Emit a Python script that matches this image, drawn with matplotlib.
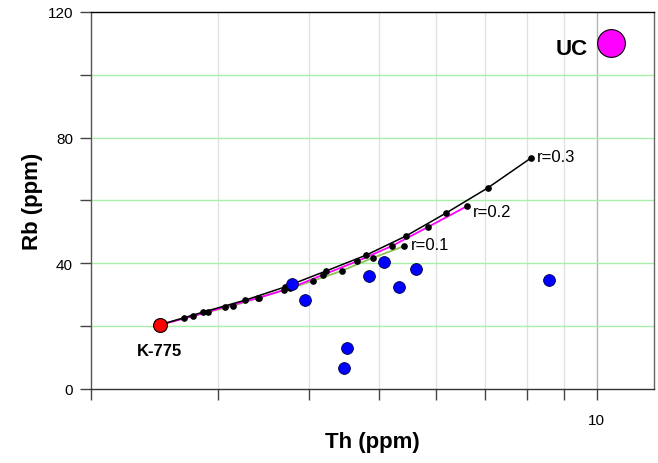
import matplotlib
matplotlib.use("Agg")
import matplotlib.pyplot as plt
from matplotlib.ticker import FixedLocator, NullLocator

plt.rcParams['font.family'] = ['Liberation Sans', 'DejaVu Sans']

# Starting composition and upper crust
k775_th, k775_rb = 2.49, 20.4
uc_th, uc_rb = 10.45, 110.0

# Mixing / AFC curves (dots along each trajectory)
r01_th = [2.69, 2.90, 3.14, 3.40, 3.70, 4.05, 4.44, 4.90, 5.42]
r01_rb = [22.6, 24.5, 26.4, 29.0, 31.5, 34.4, 37.6, 41.7, 45.5]
r02_th = [2.77, 3.06, 3.41, 3.77, 4.18, 4.67, 5.21, 5.85, 6.62]
r02_rb = [23.2, 26.1, 29.0, 32.1, 36.3, 40.7, 45.5, 51.6, 58.2]
r03_th = [2.86, 3.27, 3.71, 4.23, 4.80, 5.45, 6.19, 7.07, 8.11]
r03_rb = [24.5, 28.3, 32.5, 37.6, 42.6, 48.7, 56.0, 64.0, 73.5]

# Samples
samp_th = [3.79, 3.95, 4.47, 4.52, 4.85, 5.08, 5.33, 5.63, 8.59]
samp_rb = [33.4, 28.3, 6.7, 13.0, 36.0, 40.4, 32.5, 38.2, 34.7]

fig = plt.figure(figsize=(6.58, 4.64), dpi=100)
ax = fig.add_axes([0.1383, 0.1595, 0.8556, 0.8125])
ax.set_xscale('log')
ax.set_xlim(2, 12)
ax.set_ylim(0, 120)

# grid
for xv in [3, 4, 5, 6, 7, 8, 9]:
    ax.axvline(xv, color='#e2e2e2', lw=1.0, zorder=0)
ax.axvline(10, color='#b4b4b4', lw=1.0, zorder=0)
for yv in [20, 40, 60, 80, 100]:
    ax.axhline(yv, color='#a8f0a8', lw=1.0, zorder=0)

# curves
ax.plot([k775_th] + r01_th, [k775_rb] + r01_rb, color='#8cc152', lw=1.3, zorder=2)
ax.plot([k775_th] + r02_th, [k775_rb] + r02_rb, color='#ff00ff', lw=1.3, zorder=3)
ax.plot([k775_th] + r03_th, [k775_rb] + r03_rb, color='black', lw=1.1, zorder=4)
for th, rb in [(r01_th, r01_rb), (r02_th, r02_rb), (r03_th, r03_rb)]:
    ax.plot(th, rb, 'o', color='black', ms=3.8, zorder=5, linestyle='none')

ax.text(r01_th[-1] * 1.02, r01_rb[-1] + 0.6, 'r=0.1', fontsize=12, va='center', ha='left')
ax.text(r02_th[-1] * 1.02, r02_rb[-1] - 1.6, 'r=0.2', fontsize=12, va='center', ha='left')
ax.text(r03_th[-1] * 1.02, r03_rb[-1] + 0.6, 'r=0.3', fontsize=12, va='center', ha='left')

# samples
ax.plot(samp_th, samp_rb, 'o', color='#0000ff', mec='#000040', mew=0.6, ms=8.5,
        linestyle='none', zorder=6)
ax.plot([k775_th], [k775_rb], 'o', color='#ff0000', mec='black', mew=0.8, ms=10,
        zorder=7)
ax.text(k775_th, k775_rb - 8, 'K-775', fontsize=12, fontweight='bold',
        ha='center', va='center')
ax.plot([uc_th], [uc_rb], 'o', color='#ff00ff', mec='black', mew=0.8, ms=20,
        zorder=7)
ax.text(uc_th * 0.93, uc_rb - 1.5, 'UC', fontsize=16, fontweight='bold',
        ha='right', va='center')

# ticks
ax.xaxis.set_major_locator(FixedLocator([2, 3, 4, 5, 6, 7, 8, 9, 10]))
ax.xaxis.set_minor_locator(NullLocator())
ax.set_xticklabels(['', '', '', '', '', '', '', '', '10'])
ax.yaxis.set_major_locator(FixedLocator([0, 20, 40, 60, 80, 100, 120]))
ax.set_yticklabels(['0', '', '40', '', '80', '', '120'])
ax.tick_params(axis='x', direction='out', length=8, width=1, color='#444444',
               labelsize=11, pad=9)
ax.tick_params(axis='y', direction='out', length=8, width=1, color='#444444',
               labelsize=11, pad=5)

ax.spines['top'].set_color('black')
ax.spines['right'].set_color('#666666')
ax.spines['left'].set_color('#555555')
ax.spines['bottom'].set_color('#333333')
for s in ax.spines.values():
    s.set_linewidth(1.0)

ax.set_xlabel('Th (ppm)', fontsize=16, fontweight='bold', labelpad=3)
ax.set_ylabel('Rb (ppm)', fontsize=16, fontweight='bold', labelpad=3)

fig.savefig('out.png', dpi=100)
